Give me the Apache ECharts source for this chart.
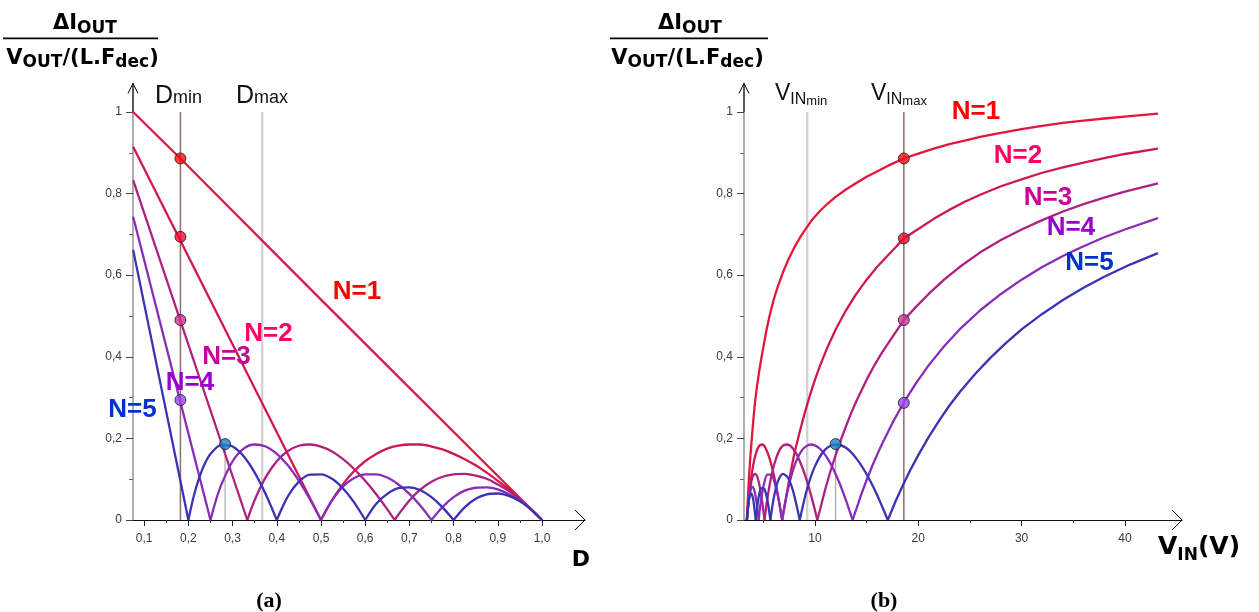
<!DOCTYPE html>
<html><head><meta charset="utf-8">
<script src="https://cdn.jsdelivr.net/npm/echarts@6/dist/echarts.min.js"></script>
<style>html,body{margin:0;padding:0;background:#fff}#c{width:1259px;height:612px}</style>
</head><body><div id="c"></div>
<script>
// ---------- tick values ----------
const aTicksX = [0.1,0.2,0.3,0.4,0.5,0.6,0.7,0.8,0.9,1.0];
const aMinorX = [0.15,0.25,0.35,0.45,0.55,0.65,0.75,0.85,0.95];
const bTicksX = [10,20,30,40];
const bMinorX = [5,15,25,35];
const yTicks = [0,0.2,0.4,0.6,0.8,1];
const yMinor = [0.1,0.3,0.5,0.7,0.9];

// ---------- panel (a): x = D ----------
const aN1 = [[0.075,1.0],[0.182,0.886],[0.5,0.54],[1.0,0]];
const aN2 = [[0.075,0.915],[0.5,0],[0.525,0.049],[0.55,0.088],[0.575,0.12],[0.6,0.144],[0.625,0.162],[0.65,0.175],[0.675,0.182],[0.7,0.185],[0.725,0.185],[0.75,0.18],[0.775,0.173],[0.8,0.162],[0.825,0.149],[0.85,0.134],[0.875,0.116],[0.9,0.096],[0.925,0.075],[0.95,0.051],[0.975,0.026],[1.0,0]];
const aN3 = [[0.075,0.833],[0.3333,0],[0.35,0.049],[0.375,0.105],[0.4,0.144],[0.425,0.169],[0.45,0.182],[0.475,0.185],[0.5,0.18],[0.525,0.168],[0.55,0.149],[0.575,0.125],[0.6,0.096],[0.625,0.063],[0.65,0.026],[0.6667,0],[0.675,0.013],[0.7,0.048],[0.725,0.075],[0.75,0.094],[0.775,0.106],[0.8,0.112],[0.825,0.113],[0.85,0.109],[0.875,0.101],[0.9,0.087],[0.925,0.071],[0.95,0.05],[0.975,0.027],[1.0,0]];
const aN4 = [[0.075,0.743],[0.25,0],[0.2625,0.049],[0.275,0.088],[0.3,0.144],[0.325,0.175],[0.35,0.185],[0.375,0.18],[0.4,0.162],[0.425,0.134],[0.45,0.096],[0.475,0.051],[0.5,0],[0.525,0.048],[0.55,0.082],[0.575,0.103],[0.6,0.112],[0.625,0.112],[0.65,0.104],[0.675,0.087],[0.7,0.064],[0.725,0.035],[0.75,0],[0.775,0.032],[0.8,0.056],[0.825,0.072],[0.85,0.079],[0.875,0.08],[0.9,0.075],[0.925,0.063],[0.95,0.048],[0.975,0.026],[1.0,0]];
const aN5 = [[0.075,0.662],[0.2,0],[0.2125,0.06],[0.225,0.105],[0.2375,0.139],[0.25,0.162],[0.275,0.184],[0.3,0.18],[0.325,0.156],[0.35,0.116],[0.375,0.063],[0.4,0],[0.425,0.058],[0.45,0.094],[0.475,0.111],[0.5,0.112],[0.525,0.101],[0.55,0.077],[0.575,0.043],[0.6,0],[0.625,0.04],[0.65,0.064],[0.675,0.078],[0.7,0.08],[0.725,0.073],[0.75,0.056],[0.775,0.031],[0.8,0],[0.825,0.031],[0.85,0.052],[0.875,0.063],[0.9,0.065],[0.925,0.059],[0.95,0.046],[0.975,0.026],[1.0,0]];
const aDmin = 0.182, aDmax = 0.367, aPeakD = 0.283, aPeakVal = 0.186;
const aDotVals = [0.886, 0.694, 0.49, 0.294];

// ---------- panel (b): x = VIN (V) ----------
const bN1 = [[3.39,0],[3.5,0.05],[3.6,0.10],[3.73,0.15],[3.87,0.196],[4.03,0.245],[4.2,0.29],[4.4,0.33],[4.6,0.365],[4.9,0.41],[5.3,0.465],[5.6,0.5],[6,0.54],[6.4,0.572],[6.9,0.607],[7.4,0.637],[8,0.668],[8.5,0.69],[9,0.71],[9.7,0.735],[10.5,0.758],[11.2,0.775],[12,0.792],[13,0.81],[14,0.826],[15,0.841],[16,0.854],[17.3,0.871],[18.6,0.886],[20,0.898],[21.5,0.91],[23,0.921],[24.5,0.93],[26,0.939],[28,0.949],[30,0.958],[32,0.966],[34,0.973],[36,0.979],[38,0.984],[40.5,0.99],[43.2,0.996]];
const bN2 = [[3.41,0],[3.5,0.027],[3.7,0.078],[4.0,0.132],[4.3,0.165],[4.6,0.182],[4.9,0.185],[5.2,0.177],[5.6,0.151],[6.0,0.112],[6.4,0.062],[6.82,0],[7.5,0.098],[8,0.163],[8.5,0.214],[9,0.262],[9.5,0.305],[10,0.344],[10.5,0.379],[11.2,0.423],[12,0.467],[13,0.514],[14,0.554],[15,0.589],[16,0.62],[17.3,0.655],[18.6,0.69],[20,0.713],[21.5,0.738],[23,0.76],[24.5,0.78],[26,0.797],[28,0.818],[30,0.835],[32,0.851],[34,0.864],[36,0.876],[38,0.887],[40,0.897],[43.2,0.91]];
const bN3 = [[3.41,0],[3.55,0.041],[3.75,0.082],[3.95,0.105],[4.2,0.113],[4.45,0.103],[4.75,0.068],[5.115,0],[5.4,0.054],[5.8,0.111],[6.3,0.156],[6.8,0.18],[7.3,0.185],[7.9,0.174],[8.5,0.146],[9.1,0.105],[9.7,0.053],[10.23,0],[11,0.076],[11.5,0.12],[12,0.159],[12.5,0.196],[13,0.23],[13.5,0.262],[14,0.291],[15,0.344],[15.7,0.377],[16.5,0.411],[17.5,0.449],[18.6,0.49],[19.8,0.523],[21,0.554],[22.5,0.589],[24,0.62],[26,0.656],[28,0.686],[30,0.712],[32,0.735],[34,0.756],[36,0.774],[38,0.79],[40,0.805],[43.2,0.825]];
const bN4 = [[3.41,0],[3.55,0.039],[3.75,0.071],[3.95,0.081],[4.15,0.07],[4.35,0.042],[4.547,0],[4.75,0.044],[5.05,0.087],[5.4,0.111],[5.75,0.111],[6.1,0.091],[6.45,0.054],[6.82,0],[7.3,0.066],[8,0.132],[8.8,0.173],[9.6,0.185],[10.5,0.174],[11.4,0.143],[12.3,0.095],[13.0,0.048],[13.64,0],[14.5,0.064],[15,0.098],[15.5,0.13],[16,0.159],[16.5,0.187],[17.5,0.238],[18.6,0.288],[19.8,0.336],[21,0.379],[22.5,0.426],[24,0.467],[26,0.514],[28,0.554],[30,0.589],[32,0.62],[34,0.647],[36,0.671],[38,0.693],[40,0.712],[43.2,0.74]];
const bN5 = [[3.41,0],[3.6,0.048],[3.8,0.065],[4.0,0.053],[4.2625,0],[4.5,0.049],[4.8,0.078],[5.1,0.076],[5.4,0.047],[5.683,0],[6.0,0.053],[6.4,0.094],[6.9,0.113],[7.4,0.103],[7.9,0.069],[8.525,0],[9.2,0.073],[10,0.132],[11,0.173],[12,0.185],[13,0.177],[14,0.151],[15,0.112],[16,0.062],[17.05,0],[17.8,0.046],[18.6,0.09],[19.3,0.126],[20,0.159],[21,0.203],[22,0.243],[23,0.28],[24,0.313],[25.5,0.358],[27,0.398],[28.5,0.434],[30,0.467],[32,0.505],[34,0.539],[36,0.569],[38,0.596],[40.5,0.626],[43.2,0.654]];
const bVinMin = 9.25, bVinMax = 18.6, bPeakV = 12.0, bPeakVal = 0.186;
const bDotVals = [0.886, 0.69, 0.49, 0.287];

const refTop = 1.0;
const curveColors = ['#e3173c','#d01850','#b0207e','#8a2cb8','#3b33b5'];
const dotColors = ['#ff0d0d','#ee0a2e','#cc3399','#9b45f0'];
const peakColor = '#1b82c4';
const labelColors = ['#ff0000','#ff0066','#cc0099','#9900cc','#0033cc'];

// ---------- axis ranges ----------
const aXMin = 0.0747, aXMax = 1.0973;
const bXMin = 3.127, bXMax = 45.53;
const yMax = 1.07;

const fmtY = v => v === 0 ? '0' : (v === 1 ? '1' : v.toFixed(1).replace('.', ','));
const fmtXa = v => v.toFixed(1).replace('.', ',');
const tickFont = {color:'#3a3a3a', fontSize:12, fontFamily:'Liberation Sans'};

function mainX(grid, min, max, ticks, fmt) {
  return {type:'value', gridIndex:grid, position:'bottom', min, max,
    axisLine:{show:true, onZero:false, lineStyle:{color:'#111', width:1.2}},
    axisTick:{show:true, inside:false, length:6, customValues:ticks, lineStyle:{color:'#222', width:1}},
    axisLabel:Object.assign({show:true, customValues:ticks, formatter:fmt, margin:13}, tickFont),
    splitLine:{show:false}};
}
function minorX(grid, min, max, ticks) {
  return {type:'value', gridIndex:grid, position:'bottom', min, max,
    axisLine:{show:false}, axisLabel:{show:false}, splitLine:{show:false},
    axisTick:{show:true, inside:false, length:3, customValues:ticks, lineStyle:{color:'#444', width:1}}};
}
function mainY(grid) {
  return {type:'value', gridIndex:grid, position:'left', min:0, max:yMax,
    axisLine:{show:true, onZero:false, lineStyle:{color:'#a6a6a6', width:1.8}},
    axisTick:{show:true, inside:false, length:7, customValues:yTicks, lineStyle:{color:'#444', width:1}},
    axisLabel:Object.assign({show:true, customValues:yTicks, formatter:fmtY, margin:11}, tickFont),
    splitLine:{show:false}};
}
function minorY(grid) {
  return {type:'value', gridIndex:grid, position:'left', min:0, max:yMax,
    axisLine:{show:false}, axisLabel:{show:false}, splitLine:{show:false},
    axisTick:{show:true, inside:false, length:4, customValues:yMinor, lineStyle:{color:'#666', width:1}}};
}

// split a curve at its interior zeros; only the arches (zero to zero) are smoothed
function curveSeries(pts, color, xi, yi) {
  const segs = []; let cur = [pts[0]];
  for (let i = 1; i < pts.length; i++) {
    cur.push(pts[i]);
    if (pts[i][1] === 0 && i < pts.length - 1) { segs.push(cur); cur = [pts[i]]; }
  }
  segs.push(cur);
  return segs.map(s => {
    const arch = s.length > 2 && s[0][1] === 0 && s[s.length-1][1] === 0;
    return {type:'line', xAxisIndex:xi, yAxisIndex:yi, data:s,
      smooth: arch ? 0.3 : false, symbol:'none', showSymbol:false,
      lineStyle:{color, width:2.3, join:'round'}, silent:true, z:3, animation:false};
  });
}
function vline(x, top, color, width, xi, yi) {
  return {type:'line', xAxisIndex:xi, yAxisIndex:yi, data:[[x,0],[x,top]], symbol:'none',
    lineStyle:{color, width}, silent:true, z:2, animation:false};
}
function dots(x, vals, xi, yi) {
  return {type:'scatter', xAxisIndex:xi, yAxisIndex:yi,
    data: vals.map((v,i) => ({value:[x,v], itemStyle:{color:dotColors[i]}})),
    symbolSize:11, itemStyle:{borderColor:'#1a1a1a', borderWidth:1}, silent:true, z:5, animation:false};
}
function peakDot(x, v, xi, yi) {
  return {type:'scatter', xAxisIndex:xi, yAxisIndex:yi, data:[[x,v]], symbolSize:11,
    itemStyle:{color:peakColor, borderColor:'#1a1a1a', borderWidth:1}, silent:true, z:5, animation:false};
}

const series = [];
// panel a
series.push(vline(aDmin, refTop, '#8c6e6e', 1.5, 0, 0));
series.push(vline(aDmax, refTop, '#cfcfcf', 2.2, 0, 0));
series.push(vline(aPeakD, aPeakVal, '#9a9a9a', 1, 0, 0));
[aN1,aN2,aN3,aN4,aN5].forEach((d,i) => series.push(...curveSeries(d, curveColors[i], 0, 0)));
series.push(dots(aDmin, aDotVals, 0, 0));
series.push(peakDot(aPeakD, aPeakVal, 0, 0));
// panel b
series.push(vline(bVinMin, refTop, '#cfcfcf', 2.2, 2, 2));
series.push(vline(bVinMax, refTop, '#8c6e6e', 1.5, 2, 2));
series.push(vline(bPeakV, bPeakVal, '#9a9a9a', 1, 2, 2));
[bN1,bN2,bN3,bN4,bN5].forEach((d,i) => series.push(...curveSeries(d, curveColors[i], 2, 2)));
series.push(dots(bVinMax, bDotVals, 2, 2));
series.push(peakDot(bPeakV, bPeakVal, 2, 2));

const chart = echarts.init(document.getElementById('c'), null, {renderer:'canvas'});
chart.setOption({
  animation:false,
  backgroundColor:'#ffffff',
  grid:[
    {left:133, top:83.4, width:452, height:436.6, containLabel:false, outerBoundsMode:'none'},
    {left:744, top:83.4, width:438, height:436.6, containLabel:false, outerBoundsMode:'none'}
  ],
  xAxis:[mainX(0,aXMin,aXMax,aTicksX,fmtXa), minorX(0,aXMin,aXMax,aMinorX),
         mainX(1,bXMin,bXMax,bTicksX,v=>String(v)), minorX(1,bXMin,bXMax,bMinorX)],
  yAxis:[mainY(0), minorY(0), mainY(1), minorY(1)],
  series
});

// ---------- text & arrows ----------
const mctx = document.createElement('canvas').getContext('2d');
function fontOf(p){ return `${p.w||'bold'} ${p.s}px ${p.f||'DejaVu Sans'}`; }
function row(x, y, parts, anchor) {
  let total = 0;
  const ws = parts.map(p => { mctx.font = fontOf(p); const w = mctx.measureText(p.t).width; total += w; return w; });
  let cx = anchor === 'center' ? x - total/2 : x;
  return parts.map((p,i) => {
    const el = {type:'text', x:cx, y:y+(p.dy||0), silent:true, z:100,
      style:{text:p.t, font:fontOf(p), fill:p.c||'#000', align:'left', verticalAlign:'middle', textAlign:'left', textVerticalAlign:'middle'}};
    cx += ws[i]; return el;
  });
}
const g = [];
function fraction(cxNum, cxDen, barX1, barX2) {
  g.push(...row(cxNum, 23.5, [{t:'ΔI', s:21},{t:'OUT', s:17, dy:5}], 'center'));
  g.push({type:'line', silent:true, z:100, shape:{x1:barX1, y1:38.3, x2:barX2, y2:38.3}, style:{stroke:'#000', lineWidth:1.7}});
  g.push(...row(cxDen, 58.5, [{t:'V', s:21},{t:'OUT', s:17, dy:4},{t:'/(L.F', s:21},{t:'dec', s:17, dy:4},{t:')', s:21}], 'center'));
}
fraction(85, 82.5, 3, 158);
fraction(690, 687.5, 610, 768);
const reg = 'normal', lib = 'Liberation Sans';
g.push(...row(155, 96, [{t:'D', s:25, w:reg, f:lib, c:'#111'},{t:'min', s:18, w:reg, f:lib, c:'#111', dy:2}], 'left'));
g.push(...row(236, 96, [{t:'D', s:25, w:reg, f:lib, c:'#111'},{t:'max', s:18, w:reg, f:lib, c:'#111', dy:2}], 'left'));
g.push(...row(775, 94, [{t:'V', s:23, w:reg, f:lib, c:'#111'},{t:'IN', s:16, w:reg, f:lib, c:'#111', dy:6},{t:'min', s:13, w:reg, f:lib, c:'#111', dy:7}], 'left'));
g.push(...row(871, 94, [{t:'V', s:23, w:reg, f:lib, c:'#111'},{t:'IN', s:16, w:reg, f:lib, c:'#111', dy:6},{t:'max', s:13, w:reg, f:lib, c:'#111', dy:7}], 'left'));
g.push(...row(581, 560, [{t:'D', s:22}], 'center'));
g.push(...row(1158, 547.5, [{t:'V', s:25},{t:'IN', s:17, dy:8},{t:'(V)', s:25}], 'left'));
g.push(...row(269, 601, [{t:'(a)', s:22, f:'Liberation Serif'}], 'center'));
g.push(...row(884, 601, [{t:'(b)', s:22, f:'Liberation Serif'}], 'center'));
const aLab = [[357,292],[268.5,333.5],[226.5,357],[190,382.5],[132.5,410]];
const bLab = [[976,112],[1018,155.5],[1048,197.5],[1071,228],[1089.5,262.5]];
['N=1','N=2','N=3','N=4','N=5'].forEach((t,i) => {
  g.push(...row(aLab[i][0], aLab[i][1], [{t, s:26, f:lib, c:labelColors[i]}], 'center'));
  g.push(...row(bLab[i][0], bLab[i][1], [{t, s:26, f:lib, c:labelColors[i]}], 'center'));
});
function arrows(xi, yi, xmin, xmax) {
  const f = {xAxisIndex:xi, yAxisIndex:yi};
  const top = chart.convertToPixel(f, [xmin, yMax]);
  const one = chart.convertToPixel(f, [xmin, 1.0]);
  const end = chart.convertToPixel(f, [xmax, 0]);
  g.push({type:'line', silent:true, z:90, shape:{x1:top[0], y1:one[1], x2:top[0], y2:top[1]}, style:{stroke:'#000', lineWidth:1}});
  g.push({type:'polyline', silent:true, z:90, shape:{points:[[top[0]-5, top[1]+10],[top[0], top[1]],[top[0]+5, top[1]+10]]}, style:{stroke:'#000', lineWidth:1, fill:null}});
  g.push({type:'polyline', silent:true, z:90, shape:{points:[[end[0]-10, end[1]-10],[end[0], end[1]],[end[0]-10, end[1]+10]]}, style:{stroke:'#000', lineWidth:1, fill:null}});
}
arrows(0, 0, aXMin, aXMax);
arrows(2, 2, bXMin, bXMax);
chart.setOption({graphic:{elements:g}});
</script></body></html>
